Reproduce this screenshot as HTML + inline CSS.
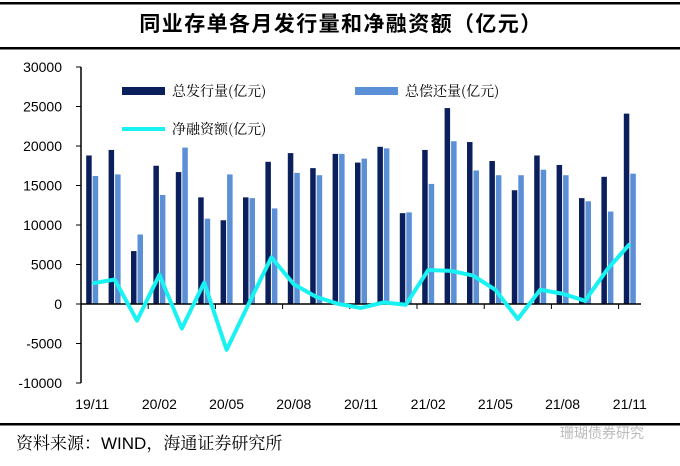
<!DOCTYPE html>
<html><head><meta charset="utf-8"><style>
body{margin:0;background:#fff;}
svg text{font-family:"Liberation Sans","Noto Sans CJK SC",sans-serif;}
</style></head><body>
<svg width="680" height="461" viewBox="0 0 680 461">
<rect x="0" y="2" width="680" height="2.5" fill="#000"/>
<text x="341" y="31" text-anchor="middle" font-size="21" letter-spacing="1.4" font-weight="bold" style="font-family:'Noto Sans CJK SC',sans-serif">同业存单各月发行量和净融资额（亿元）</text>
<rect x="0" y="47" width="680" height="2.5" fill="#000"/>
<rect x="0" y="423" width="680" height="2.5" fill="#000"/>
<text x="16" y="449" font-size="17" style="font-family:'Noto Serif CJK SC','Liberation Sans',serif">资料来源：<tspan style="font-family:'Liberation Sans',sans-serif">WIND</tspan>，海通证券研究所</text>
<text x="560" y="438" font-size="14" fill="#bbb" style="font-family:'Noto Sans CJK SC',sans-serif">珊瑚债券研究</text>
<g id="legend">
<rect x="122" y="87" width="43" height="8" fill="#0b1f5c"/>
<text x="172" y="96" font-size="14" style="font-family:'Noto Serif CJK SC','Liberation Serif',serif">总发行量(亿元)</text>
<rect x="355" y="87" width="43" height="8" fill="#5b8fd6"/>
<text x="405" y="96" font-size="14" style="font-family:'Noto Serif CJK SC','Liberation Serif',serif">总偿还量(亿元)</text>
<line x1="122" y1="129" x2="165" y2="129" stroke="#19f2f2" stroke-width="4"/>
<text x="172" y="134" font-size="14" style="font-family:'Noto Serif CJK SC','Liberation Serif',serif">净融资额(亿元)</text>
</g>
<g id="plot"></g>
</svg>
<script>
const categories=["19/11","19/12","20/01","20/02","20/03","20/04","20/05","20/06","20/07","20/08","20/09","20/10","20/11","20/12","21/01","21/02","21/03","21/04","21/05","21/06","21/07","21/08","21/09","21/10","21/11"];
const issuance=[18800,19500,6700,17500,16700,13500,10600,13500,18000,19100,17200,19000,17900,19900,11500,19500,24800,20500,18100,14400,18800,17600,13400,16100,24100];
const repayment=[16200,16400,8800,13800,19800,10800,16400,13400,12100,16600,16300,19000,18400,19700,11600,15200,20600,16900,16300,16300,17000,16300,13000,11700,16500];
const netFinancing=[2600,3100,-2100,3700,-3100,2700,-5800,100,5900,2500,900,0,-500,200,-100,4300,4200,3600,1800,-1900,1800,1300,400,4400,7600];
const yTicks=[30000,25000,20000,15000,10000,5000,0,-5000,-10000];
const xLabelEvery=3;

const NS="http://www.w3.org/2000/svg";
const g=document.getElementById('plot');
const X0=81,X1=641,Y0=304,PX=316/40000;
const band=(X1-X0)/categories.length;
const y=v=>Y0-v*PX;
const xc=i=>X0+band*(i+0.5);
function mk(t,a){const e=document.createElementNS(NS,t);for(const k in a)e.setAttribute(k,a[k]);g.appendChild(e);return e;}

yTicks.forEach(v=>{
  const t=mk('text',{x:62,y:y(v)+5,'text-anchor':'end','font-size':14});
  t.textContent=v;
  
  
  const l=mk('line',{x1:76,x2:X0,y1:y(v),y2:y(v),stroke:'#000'});
  
  
});
const ya=mk('line',{x1:X0,x2:X0,y1:y(30000),y2:y(-10000),stroke:'#000','stroke-width':1.5});



categories.forEach((c,i)=>{
  const bw=5.5;
  const b1=mk('rect',{x:xc(i)-bw-0.5,y:y(issuance[i]),width:bw,height:issuance[i]*PX,fill:'#0b1f5c'});
  
  
  const b2=mk('rect',{x:xc(i)+0.5,y:y(repayment[i]),width:bw,height:repayment[i]*PX,fill:'#5b8fd6'});
  
  
  if(i%xLabelEvery===0){
    const t=mk('text',{x:xc(i),y:409,'text-anchor':'middle','font-size':14});
    t.textContent=c;
    
    
    if(i>0){const tk=mk('line',{x1:X0+band*i,x2:X0+band*i,y1:Y0,y2:Y0+5,stroke:'#000'});
    
    }
  }
});
const xa=mk('line',{x1:X0,x2:X1,y1:Y0,y2:Y0,stroke:'#000','stroke-width':1.5});


const pl=mk('polyline',{points:netFinancing.map((v,i)=>xc(i)+','+y(v)).join(' '),fill:'none',stroke:'#19f2f2','stroke-width':4,'stroke-linejoin':'round'});


</script>
</body></html>
